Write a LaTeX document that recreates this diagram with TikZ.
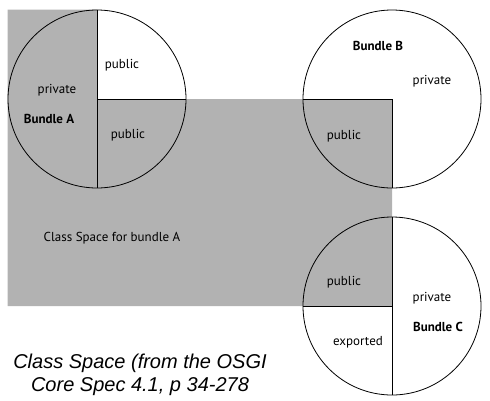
\documentclass[tikz,border=0pt]{standalone}
\usepackage{fontspec}
\setmainfont{PT Sans}
\newfontfamily\titlefont{Liberation Sans}
\usetikzlibrary{backgrounds}
\definecolor{spacegray}{RGB}{178,178,178}
\tikzstyle{bundle} = [
    circle,
    minimum size=178pt,
    inner sep=0pt,
    draw=black,
    line width=0.8pt
]
\tikzstyle{part} = [
    inner sep=0pt,
    font=\fontsize{13}{15}\selectfont
]
\tikzstyle{bundlename} = [
    inner sep=0pt,
    font=\bfseries\fontsize{13}{15}\selectfont
]
\tikzstyle{divider} = [line width=0.8pt]

\begin{document}
\begin{tikzpicture}[x=1pt, y=-1pt]

\useasboundingbox (0,0) rectangle (490,400);

\node (bundleA) [bundle] at (97,99) {};
\node (bundleB) [bundle] at (392,99) {};
\node (bundleC) [bundle] at (392,306) {};

% class space of bundle A
\begin{pgfonlayer}{background}
\fill [spacegray] (bundleA.west |- bundleA.north) -- (bundleA.north)
    -- (bundleA.center) -- (bundleB.center) -- (bundleC.center)
    -- (bundleA.west |- bundleC.center) -- cycle;
\end{pgfonlayer}

\draw [divider] (bundleA.north) -- (bundleA.south);
\draw [divider] (bundleA.center) -- (bundleA.east);
\draw [divider] (bundleB.west) -- (bundleB.center);
\draw [divider] (bundleB.center) -- (bundleB.south);
\draw [divider] (bundleC.north) -- (bundleC.south);
\draw [divider] (bundleC.west) -- (bundleC.center);

\node (pubA1) [part] at (122,65) {public};
\node (privA) [part] at (57,90) {private};
\node (nameA) [bundlename] at (49,119) {Bundle A};
\node (pubA2) [part] at (128,135) {public};

\node (nameB) [bundlename] at (378,46) {Bundle B};
\node (privB) [part] at (432,81) {private};
\node (pubB) [part] at (344,136) {public};

\node (pubC) [part] at (344,282) {public};
\node (privC) [part] at (432,298) {private};
\node (nameC) [bundlename] at (438,327) {Bundle C};
\node (expC) [part] at (358,342) {exported};

\node (space) [part] at (112,238) {Class Space for bundle A};

\node (caption) [align=center, inner sep=0pt,
    font=\titlefont\itshape\fontsize{20}{23}\selectfont] at (140,375)
    {Class Space (from the OSGI\\Core Spec 4.1, p 34-278};

\end{tikzpicture}
\end{document}
